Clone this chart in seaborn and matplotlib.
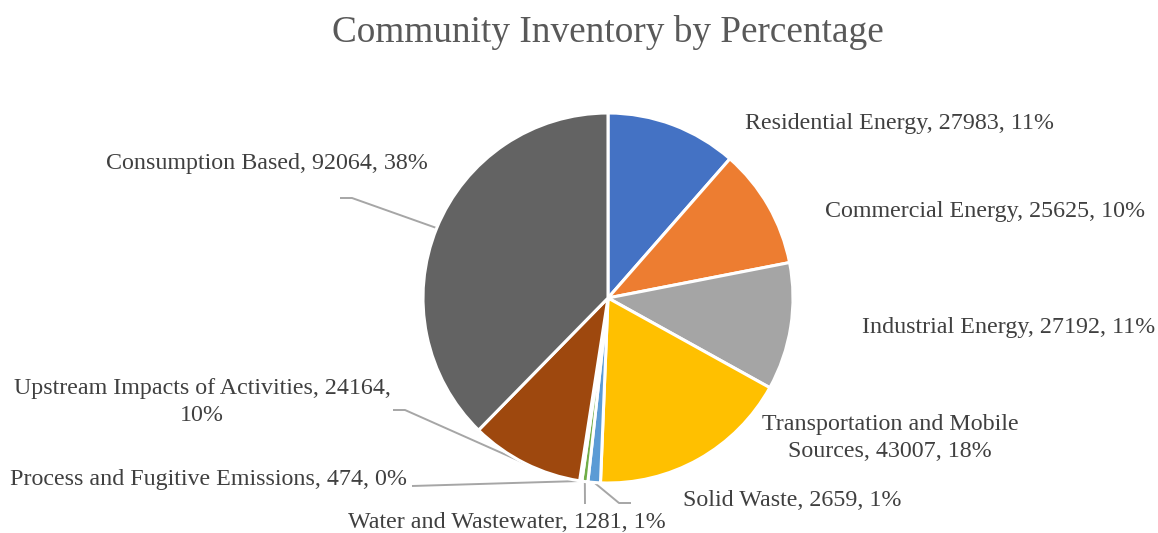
import numpy as np
import matplotlib
matplotlib.use("Agg")
import matplotlib.pyplot as plt
import seaborn as sns

# Community emissions inventory by sector
sectors = [
    "Residential Energy",
    "Commercial Energy",
    "Industrial Energy",
    "Transportation and Mobile Sources",
    "Solid Waste",
    "Water and Wastewater",
    "Process and Fugitive Emissions",
    "Upstream Impacts of Activities",
    "Consumption Based",
]
emissions = [27983, 25625, 27192, 43007, 2659, 1281, 474, 24164, 92064]
colors = ["#4472C4", "#ED7D31", "#A5A5A5", "#FFC000", "#5B9BD5",
          "#70AD47", "#264478", "#9E480E", "#636363"]

sns.set_theme(style="white")
plt.rcParams["font.family"] = ["Liberation Serif", "DejaVu Serif"]

W, H = 1158, 533
fig = plt.figure(figsize=(W / 100, H / 100), dpi=100)
ax = fig.add_axes([0, 0, 1, 1])


def py(y):
    """Convert a top-down pixel row into the axes' bottom-up y value."""
    return H - y


cx, cy, R = 608, py(298), 185
wedges, _ = ax.pie(
    emissions, colors=colors, startangle=90, counterclock=False,
    center=(cx, cy), radius=R, frame=True,
    wedgeprops=dict(edgecolor="white", linewidth=2.2),
)
ax.set_xlim(0, W)
ax.set_ylim(0, H)
ax.set_axis_off()

total = sum(emissions)
pcts = [f"{round(v / total * 100):.0f}%" for v in emissions]
texts = [f"{s}, {v}, {p}" for s, v, p in zip(sectors, emissions, pcts)]
texts[3] = f"Transportation and Mobile\nSources, {emissions[3]}, {pcts[3]}"
texts[7] = f"Upstream Impacts of Activities, {emissions[7]},\n{pcts[7]}"

# label anchor (pixel x, pixel y, horizontal alignment)
label_pos = [
    (745, 124, "left"),
    (825, 211, "left"),
    (862, 327, "left"),
    (890, 438, "center"),
    (683, 500, "left"),
    (507, 522, "center"),
    (407, 480, "right"),
    (202, 402, "center"),
    (428, 163, "right"),
]
# bend points of leader lines after the wedge edge (pixel coords)
leader_bends = {
    4: [(619, 503), (631, 503)],
    5: [(585, 504)],
    6: [(412, 486)],
    7: [(405, 410), (393, 410)],
    8: [(352, 198), (340, 198)],
}

txt_color = "#404040"
for i, (w, t) in enumerate(zip(wedges, texts)):
    x, y, ha = label_pos[i]
    ax.text(x, py(y), t, ha=ha, va="center", fontsize=17.3,
            color=txt_color, linespacing=1.33, multialignment="center")
    if i in leader_bends:
        ang = np.deg2rad((w.theta1 + w.theta2) / 2)
        start = (cx + R * np.cos(ang), cy + R * np.sin(ang))
        pts = [start] + [(bx, py(by)) for bx, by in leader_bends[i]]
        xs, ys = zip(*pts)
        ax.plot(xs, ys, color="#A6A6A6", lw=1.4, solid_capstyle="butt",
                zorder=0.5)

ax.text(608, py(32), "Community Inventory by Percentage", ha="center",
        va="center", fontsize=26.8, color="#595959")

fig.savefig("out.png", dpi=100, facecolor="white")
